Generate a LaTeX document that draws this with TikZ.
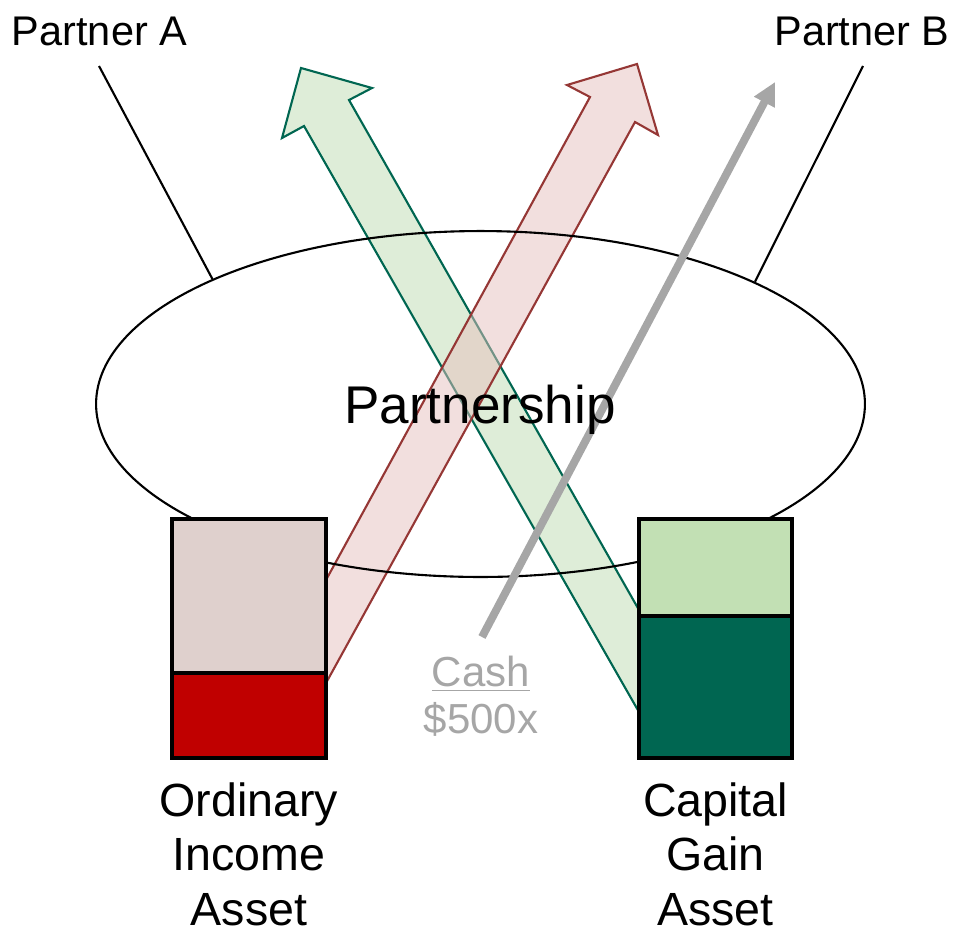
\documentclass[tikz,border=0pt]{standalone}
\usepackage{fontspec}
\setmainfont{Liberation Sans}
\usetikzlibrary{arrows.meta,shapes.geometric}
\definecolor{oilight}{RGB}{223,208,205}
\definecolor{oidark}{RGB}{192,0,0}
\definecolor{cglight}{RGB}{194,224,180}
\definecolor{cgdark}{RGB}{0,102,81}
\definecolor{redline}{RGB}{149,55,53}
\definecolor{redfill}{RGB}{230,192,189}
\definecolor{greenfill}{RGB}{189,220,178}
\definecolor{cashgray}{RGB}{166,166,166}

\begin{document}
\begin{tikzpicture}[x=0.02cm, y=-0.02cm,
    partner/.style={font=\fontsize{23.6}{28}\selectfont, anchor=base, inner sep=0},
    link/.style={line width=1.2pt},
    blockarrow/.style={line width=1.2pt, line join=miter, fill opacity=0.5},
    assetbox/.style={draw, line width=1.8pt},
    assetlabel/.style={font=\fontsize{26.5}{30.8}\selectfont, align=center, anchor=base, inner sep=0, text depth=0pt}]
    \useasboundingbox (0,0) rectangle (956,934);

    % asset transfers
    \draw[blockarrow, draw=cgdark, fill=greenfill] (639,610) -- (349,100) -- (372,88) -- (301,68) -- (282,138) -- (304,126) -- (639,712) -- cycle;
    \draw[blockarrow, draw=redline, fill=redfill] (326,580) -- (590,97) -- (567,85) -- (637,64) -- (658,135) -- (635,122) -- (326,683) -- cycle;

    \node[partner] (pa) at (99.5,45) {Partner A};
    \node[partner] (pb) at (862,45) {Partner B};
    \coordinate (pa-end) at (99,66);
    \coordinate (pb-end) at (863,66);
    \node[ellipse, draw, line width=1.2pt, minimum width=15.38cm, minimum height=6.92cm, inner sep=0] (ps) at (480.5,404) {};
    \draw[link] (pa-end) -- (ps.155.7);
    \draw[link] (pb-end) -- (ps.24.3);

    \draw[assetbox, fill=oilight] (172,519) rectangle (326,673);
    \draw[assetbox, fill=oidark] (172,673) rectangle (326,758);
    \draw[assetbox, fill=cglight] (639,519) rectangle (792,616);
    \draw[assetbox, fill=cgdark] (639,616) rectangle (792,758);

    % cash
    \coordinate (cash-tail) at (482,637);
    \coordinate (cash-head) at (775,82);
    \draw[cashgray, line width=4.5pt, -{Triangle[length=13pt,width=12.5pt]}] (cash-tail) -- (cash-head);
    \node[cashgray, font=\fontsize{23.9}{26.2}\selectfont, align=center, anchor=base, inner sep=0] (cash) at (481,733) {\underline{Cash}\\\$500x};

    \node[font=\fontsize{30.2}{36}\selectfont, anchor=base, inner sep=0] (pt) at (480,423) {Partnership};
    \node[assetlabel] (oi) at (249,925) {Ordinary\\Income\\Asset};
    \node[assetlabel] (cg) at (715.5,925) {Capital\\Gain\\Asset};
\end{tikzpicture}
\end{document}
